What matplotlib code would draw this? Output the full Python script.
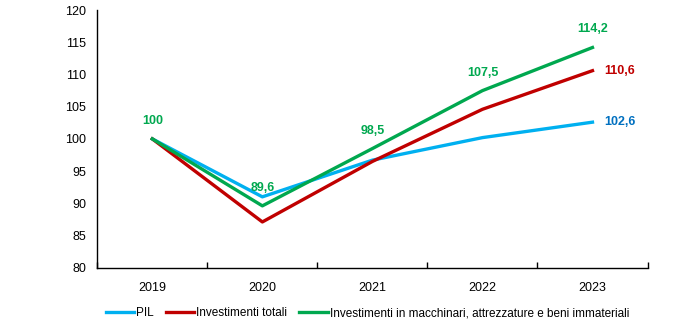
import matplotlib.pyplot as plt

anni = ['2019', '2020', '2021', '2022', '2023']
pil = [100, 91.0, 96.7, 100.2, 102.6]
inv_totali = [100, 87.1, 96.5, 104.6, 110.6]
inv_macchinari = [100, 89.6, 98.5, 107.5, 114.2]

c_pil = '#00B0F0'
c_tot = '#C00000'
c_mac = '#00A84F'

plt.rcParams['font.family'] = ['Liberation Sans Narrow', 'Liberation Sans', 'DejaVu Sans']

fig = plt.figure(figsize=(7, 3.28), dpi=100)
ax = fig.add_axes([0.139, 0.184, 0.786, 0.785])

x = list(range(len(anni)))
ax.plot(x, pil, color=c_pil, lw=2.4, label='PIL')
ax.plot(x, inv_totali, color=c_tot, lw=2.4, label='Investimenti totali')
ax.plot(x, inv_macchinari, color=c_mac, lw=2.4,
        label='Investimenti in macchinari, attrezzature e beni immateriali')

def fmt(v):
    s = f'{v:.1f}'.replace('.', ',')
    return s[:-2] if s.endswith(',0') else s

# etichette serie verde, sopra il punto
for i, v in enumerate(inv_macchinari):
    ax.text(i, v + 2.8, fmt(v), color=c_mac, fontsize=9,
            fontweight='bold', ha='center', va='center')
ax.text(4.25, inv_totali[-1], fmt(inv_totali[-1]), color=c_tot, fontsize=9,
        fontweight='bold', ha='center', va='center')
ax.text(4.25, pil[-1], fmt(pil[-1]), color='#0070C0', fontsize=9,
        fontweight='bold', ha='center', va='center')

ax.set_xlim(-0.5, 4.5)
ax.set_ylim(80, 120)
ax.set_yticks(range(80, 121, 5))
ax.set_xticks(x)
ax.set_xticklabels(anni)
ax.set_xticks([i - 0.5 for i in range(len(anni) + 1)], minor=True)
ax.tick_params(axis='x', which='major', length=0, pad=10, labelsize=9)
ax.tick_params(axis='x', which='minor', length=4, direction='in', width=1)
ax.tick_params(axis='y', length=0, labelsize=9, pad=8)
for s in ['top', 'right']:
    ax.spines[s].set_visible(False)
ax.spines['left'].set_linewidth(1)
ax.spines['bottom'].set_linewidth(1)

fig.legend(loc='lower center', bbox_to_anchor=(0.525, -0.005), ncol=3, frameon=False,
           fontsize=8.5, handlelength=2.4, columnspacing=1.0, handletextpad=0.2)

fig.savefig('out.png', dpi=100)
